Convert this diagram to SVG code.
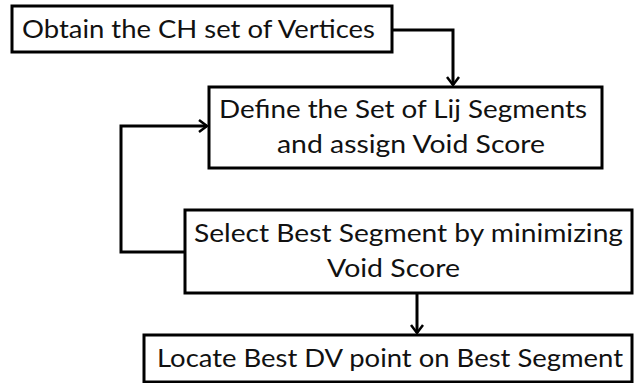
<svg xmlns="http://www.w3.org/2000/svg" width="634" height="383" viewBox="0 0 634 383">
  <style>
    .box { fill: #ffffff; stroke: #000000; stroke-width: 3; }
    .lbl { font-family: Lato, "Open Sans", "Liberation Sans", sans-serif; font-size: 25px; fill: #111111; }
    .conn { fill: none; stroke: #000000; stroke-width: 3; }
  </style>
  <defs>
    <marker id="arrow" markerUnits="userSpaceOnUse" markerWidth="16" markerHeight="16" viewBox="0 0 16 16" refX="12" refY="8" orient="auto">
      <path d="M4,2 L12,8 L4,14" fill="none" stroke="#000000" stroke-width="2.5"/>
    </marker>
  </defs>
  <rect width="634" height="383" fill="#ffffff"/>
  <g id="connectors">
    <path class="conn" d="M392,30 H453 V85" marker-end="url(#arrow)"/>
    <path class="conn" d="M185,252 H121 V126 H207" marker-end="url(#arrow)"/>
    <path class="conn" d="M417,293 V333" marker-end="url(#arrow)"/>
  </g>
  <g id="n1">
    <rect class="box" x="12" y="6" width="380" height="46"/>
    <text class="lbl" x="22" y="38" textLength="353" lengthAdjust="spacingAndGlyphs">Obtain the CH set of Vertices</text>
  </g>
  <g id="n2">
    <rect class="box" x="209" y="87" width="393" height="81"/>
    <text class="lbl" x="219" y="118" textLength="368" lengthAdjust="spacingAndGlyphs">Define the Set of Lij Segments</text>
    <text class="lbl" x="277" y="153" textLength="268" lengthAdjust="spacingAndGlyphs">and assign Void Score</text>
  </g>
  <g id="n3">
    <rect class="box" x="185" y="210" width="447" height="83"/>
    <text class="lbl" x="194" y="242" textLength="429" lengthAdjust="spacingAndGlyphs">Select Best Segment by minimizing</text>
    <text class="lbl" x="327" y="277" textLength="133" lengthAdjust="spacingAndGlyphs">Void Score</text>
  </g>
  <g id="n4">
    <rect class="box" x="144" y="335" width="488" height="47"/>
    <text class="lbl" x="157" y="367" textLength="466" lengthAdjust="spacingAndGlyphs">Locate Best DV point on Best Segment</text>
  </g>
</svg>
